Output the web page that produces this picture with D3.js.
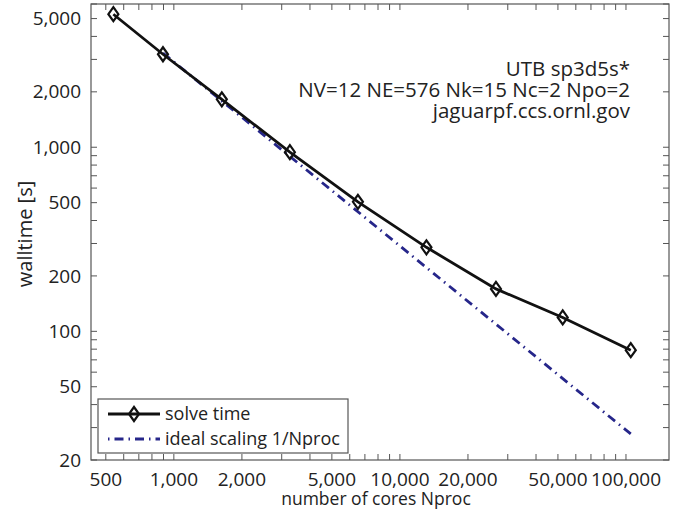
<!DOCTYPE html>
<html>
<head>
<meta charset="utf-8">
<script src="https://cdn.jsdelivr.net/npm/d3@7"></script>
<style>
  body { margin: 0; background: #fff; }
  svg { display: block; font-family: "Open Sans", sans-serif; }
</style>
</head>
<body>
<div id="chart"></div>
<script>
const cores = [540, 895, 1630, 3260, 6520, 13100, 26600, 52500, 105000];
const solveTime = [5280, 3200, 1820, 940, 505, 286, 170, 119, 79];
const idealStart = { cores: 895, time: 3250 };
const xTicks = [500, 1000, 2000, 5000, 10000, 20000, 50000, 100000];
const yTicks = [20, 50, 100, 200, 500, 1000, 2000, 5000];
const infoLines = ["UTB sp3d5s*", "NV=12 NE=576 Nk=15 Nc=2 Npo=2", "jaguarpf.ccs.ornl.gov"];

const W = 688, H = 513;
const margin = { top: 4, right: 19, bottom: 53, left: 91 };
const width = W - margin.left - margin.right;
const height = H - margin.top - margin.bottom;

const svg = d3.select("#chart").append("svg")
  .attr("width", W)
  .attr("height", H);

const g = svg.append("g").attr("transform", `translate(${margin.left},${margin.top})`);

const x = d3.scaleLog().domain([430, 155000]).range([0, width]);
const y = d3.scaleLog().domain([20, 6000]).range([height, 0]);

const fmt = d3.format(",");
const axisColor = "#555";
const textColor = "#222";
const tickLen = 6;

// minor ticks (1..9 x each power of ten inside the domain)
const minorX = [];
for (let e = 2; e <= 5; e++) for (let m = 1; m <= 9; m++) {
  const v = m * Math.pow(10, e);
  if (v >= 430 && v <= 155000) minorX.push(v);
}
const minorY = [];
for (let e = 1; e <= 3; e++) for (let m = 1; m <= 9; m++) {
  const v = m * Math.pow(10, e);
  if (v >= 20 && v <= 6000) minorY.push(v);
}

// frame
g.append("rect")
  .attr("width", width).attr("height", height)
  .attr("fill", "none").attr("stroke", axisColor).attr("stroke-width", 1.2);

// x ticks, bottom and top, pointing in
const tx = g.append("g").attr("stroke", axisColor).attr("stroke-width", 1);
tx.selectAll(".xb").data(minorX).enter().append("line")
  .attr("x1", d => x(d)).attr("x2", d => x(d))
  .attr("y1", height).attr("y2", height - tickLen);
tx.selectAll(".xt").data(minorX).enter().append("line")
  .attr("x1", d => x(d)).attr("x2", d => x(d))
  .attr("y1", 0).attr("y2", tickLen);

// y ticks, left and right
const ty = g.append("g").attr("stroke", axisColor).attr("stroke-width", 1);
ty.selectAll(".yl").data(minorY).enter().append("line")
  .attr("y1", d => y(d)).attr("y2", d => y(d))
  .attr("x1", 0).attr("x2", tickLen);
ty.selectAll(".yr").data(minorY).enter().append("line")
  .attr("y1", d => y(d)).attr("y2", d => y(d))
  .attr("x1", width).attr("x2", width - tickLen);

// tick labels
g.selectAll(".xlab").data(xTicks).enter().append("text")
  .attr("x", d => x(d)).attr("y", height + 26)
  .attr("text-anchor", "middle").attr("font-size", "19px").attr("fill", textColor)
  .text(d => fmt(d));

g.selectAll(".ylab").data(yTicks).enter().append("text")
  .attr("x", -10).attr("y", d => y(d)).attr("dy", "0.35em")
  .attr("text-anchor", "end").attr("font-size", "19px").attr("fill", textColor)
  .text(d => fmt(d));

// axis titles
svg.append("text")
  .attr("x", 376).attr("y", 505)
  .attr("text-anchor", "middle").attr("font-size", "17.5px").attr("fill", textColor)
  .text("number of cores Nproc");

svg.append("text")
  .attr("transform", `translate(32,234) rotate(-90)`)
  .attr("text-anchor", "middle").attr("font-size", "20px").attr("fill", textColor)
  .text("walltime [s]");

// ideal scaling 1/Nproc
const idealX = [idealStart.cores, cores[cores.length - 1]];
const line = d3.line().x(d => x(d[0])).y(d => y(d[1]));
g.append("path")
  .datum(idealX.map(c => [c, idealStart.time * idealStart.cores / c]))
  .attr("d", line)
  .attr("fill", "none").attr("stroke", "#26268a").attr("stroke-width", 2.8)
  .attr("stroke-dasharray", "9,5,1.5,5");

// solve time
const pts = cores.map((c, i) => [c, solveTime[i]]);
g.append("path")
  .datum(pts).attr("d", line)
  .attr("fill", "none").attr("stroke", "#111").attr("stroke-width", 2.8);

const diamond = "M0,-7L5,0L0,7L-5,0Z";
g.selectAll(".mk").data(pts).enter().append("path")
  .attr("transform", d => `translate(${x(d[0])},${y(d[1])})`)
  .attr("d", diamond)
  .attr("fill", "none").attr("stroke", "#111").attr("stroke-width", 2.2);

// annotation
g.selectAll(".info").data(infoLines).enter().append("text")
  .attr("x", 539).attr("y", (d, i) => 72 + i * 21)
  .attr("text-anchor", "end").attr("font-size", "20.5px").attr("fill", textColor)
  .text(d => d);

// legend
const lg = g.append("g").attr("transform", "translate(7,395)");
lg.append("rect")
  .attr("width", 250).attr("height", 54)
  .attr("fill", "#fff").attr("stroke", axisColor).attr("stroke-width", 1.2);
lg.append("line")
  .attr("x1", 10).attr("x2", 62).attr("y1", 15).attr("y2", 15)
  .attr("stroke", "#111").attr("stroke-width", 2.8);
lg.append("path")
  .attr("transform", "translate(36,15)").attr("d", diamond)
  .attr("fill", "none").attr("stroke", "#111").attr("stroke-width", 2.2);
lg.append("line")
  .attr("x1", 10).attr("x2", 62).attr("y1", 40).attr("y2", 40)
  .attr("stroke", "#26268a").attr("stroke-width", 2.8)
  .attr("stroke-dasharray", "1.5,5,9,5");
lg.append("text").attr("x", 67).attr("y", 15).attr("dy", "0.35em")
  .attr("font-size", "18px").attr("fill", textColor).text("solve time");
lg.append("text").attr("x", 67).attr("y", 40).attr("dy", "0.35em")
  .attr("font-size", "18px").attr("fill", textColor).text("ideal scaling 1/Nproc");
</script>
</body>
</html>
